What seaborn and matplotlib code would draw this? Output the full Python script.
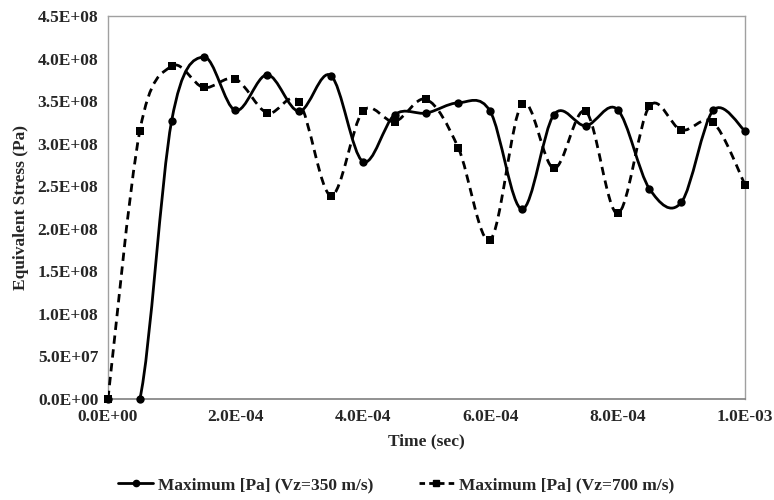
import matplotlib
matplotlib.use("Agg")
import matplotlib.pyplot as plt
import seaborn as sns
import pandas as pd
from matplotlib.path import Path
from matplotlib.patches import PathPatch
from matplotlib.lines import Line2D
from matplotlib.ticker import FuncFormatter, MultipleLocator

# data
time_s = [0.0, 5e-05, 1e-04, 1.5e-04, 2e-04, 2.5e-04, 3e-04, 3.5e-04, 4e-04, 4.5e-04,
          5e-04, 5.5e-04, 6e-04, 6.5e-04, 7e-04, 7.5e-04, 8e-04, 8.5e-04, 9e-04, 9.5e-04, 1e-03]
stress_350 = [0.0, 0.0, 3.27e8, 4.02e8, 3.39e8, 3.81e8, 3.38e8, 3.80e8, 2.79e8, 3.34e8,
              3.36e8, 3.48e8, 3.38e8, 2.23e8, 3.34e8, 3.21e8, 3.40e8, 2.47e8, 2.31e8, 3.39e8, 3.15e8]
stress_700 = [0.0, 3.15e8, 3.91e8, 3.66e8, 3.76e8, 3.36e8, 3.49e8, 2.39e8, 3.38e8, 3.26e8,
              3.52e8, 2.95e8, 1.87e8, 3.47e8, 2.71e8, 3.38e8, 2.18e8, 3.44e8, 3.16e8, 3.25e8, 2.52e8]
label_350 = 'Maximum [Pa] (Vz=350 m/s)'
label_700 = 'Maximum [Pa] (Vz=700 m/s)'

df = pd.DataFrame({'Time': time_s, 'S350': stress_350, 'S700': stress_700})

sns.set_style('white')
plt.rcParams['font.family'] = ['Liberation Serif', 'DejaVu Serif']
plt.rcParams['font.weight'] = 'bold'


# excel-like smoothed line: bezier segments built from the data points
def smooth_path(x, y):
    n = len(x)
    verts = [(x[0], y[0])]
    codes = [Path.MOVETO]
    for i in range(n - 1):
        a = i - 1 if i > 0 else i
        b = i + 2 if i + 2 < n else i + 1
        c1 = (x[i] + (x[i + 1] - x[a]) / 6, y[i] + (y[i + 1] - y[a]) / 6)
        c2 = (x[i + 1] - (x[b] - x[i]) / 6, y[i + 1] - (y[b] - y[i]) / 6)
        verts += [c1, c2, (x[i + 1], y[i + 1])]
        codes += [Path.CURVE4] * 3
    return Path(verts, codes)


fig = plt.figure(figsize=(7.74, 5.0), dpi=100)
ax = fig.add_axes([0.1395, 0.202, 0.823, 0.766])

dash = (0, (3, 2))
ax.add_patch(PathPatch(smooth_path(time_s, stress_350), fill=False,
                       edgecolor='black', lw=2.0, zorder=3))
ax.add_patch(PathPatch(smooth_path(time_s, stress_700), fill=False,
                       edgecolor='black', lw=2.0, linestyle=dash, zorder=3))

sns.scatterplot(data=df, x='Time', y='S350', marker='o', s=36, color='black',
                edgecolor='black', linewidth=0, ax=ax, zorder=4, clip_on=False)
sns.scatterplot(data=df, x='Time', y='S700', marker='s', s=36, color='black',
                edgecolor='black', linewidth=0, ax=ax, zorder=4, clip_on=False)

ax.set_xlim(0, 1e-3)
ax.set_ylim(0, 4.5e8)
ax.xaxis.set_major_locator(MultipleLocator(2e-4))
ax.yaxis.set_major_locator(MultipleLocator(5e7))
fmt = FuncFormatter(lambda v, p: '%.1E' % v)
ax.xaxis.set_major_formatter(fmt)
ax.yaxis.set_major_formatter(fmt)
ax.tick_params(axis='both', length=0, labelsize=12.5, pad=7)
for lab in ax.get_xticklabels() + ax.get_yticklabels():
    lab.set_fontweight('bold')

for side in ['top', 'right', 'left']:
    ax.spines[side].set_color('#a0a0a0')
    ax.spines[side].set_linewidth(1.0)
ax.spines['bottom'].set_color('#7f7f7f')
ax.spines['bottom'].set_linewidth(1.2)

ax.set_xlabel('Time (sec)', fontsize=12.5, fontweight='bold', labelpad=6)
ax.set_ylabel('Equivalent Stress (Pa)', fontsize=12.5, fontweight='bold', labelpad=6)

handles = [Line2D([], [], color='black', lw=2, marker='o', markersize=4.5),
           Line2D([], [], color='black', lw=2, marker='s', markersize=4.5, linestyle=(0, (2, 1.5)))]
fig.legend(handles, [label_350, label_700], loc='center', bbox_to_anchor=(0.512, 0.03),
           ncol=2, frameon=False, handlelength=2.0, handletextpad=0.3,
           columnspacing=2.6, prop={'weight': 'bold', 'size': 12.5})

fig.savefig('out.png', dpi=100)
